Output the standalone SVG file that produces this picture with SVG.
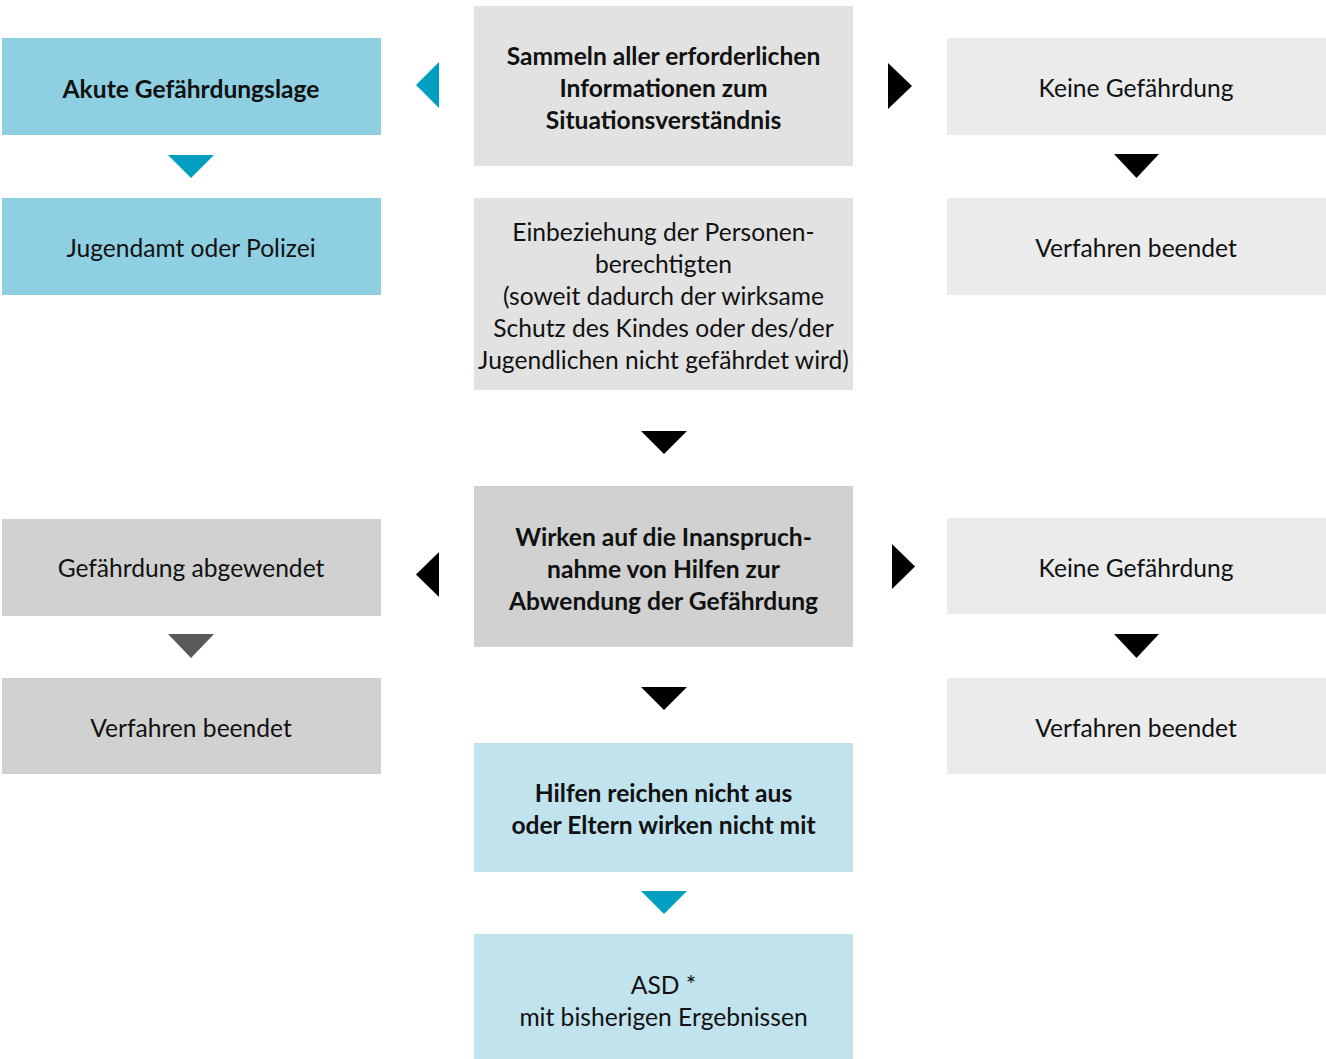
<svg xmlns="http://www.w3.org/2000/svg" width="1326" height="1059" viewBox="0 0 1326 1059">
<style>
text{font-family:Lato,"Open Sans","Liberation Sans",sans-serif;font-size:24.6px;fill:#111;text-anchor:middle}
.b{font-weight:bold}
.teal{fill:#8ECFE1}
.lblue{fill:#C1E3EE}
.g1{fill:#E2E2E2}
.g2{fill:#EBEBEB}
.g3{fill:#D0D1D0}
.at{fill:#009FC2}
.ak{fill:#000}
.ag{fill:#595959}
</style>
<rect width="1326" height="1059" fill="#fff"/>
<g id="akute"><rect class="teal" x="2" y="38" width="379" height="97"/><text class="b" x="191" y="98">Akute Gefährdungslage</text></g>
<g id="jugendamt"><rect class="teal" x="2" y="198" width="379" height="97"/><text x="191" y="257">Jugendamt oder Polizei</text></g>
<g id="sammeln"><rect class="g1" x="474" y="6" width="379" height="160"/><text class="b" x="663.5" y="65">Sammeln aller erforderlichen</text><text class="b" x="663.5" y="97">Informationen zum</text><text class="b" x="663.5" y="129">Situationsverständnis</text></g>
<g id="keine1"><rect class="g2" x="947" y="38" width="379" height="97"/><text x="1136" y="97">Keine Gefährdung</text></g>
<g id="verfahren1"><rect class="g2" x="947" y="198" width="379" height="97"/><text x="1136" y="257">Verfahren beendet</text></g>
<g id="einbeziehung"><rect class="g1" x="474" y="198" width="379" height="192"/><text x="663.5" y="241">Einbeziehung der Personen-</text><text x="663.5" y="273">berechtigten</text><text x="663.5" y="305">(soweit dadurch der wirksame</text><text x="663.5" y="337">Schutz des Kindes oder des/der</text><text x="663.5" y="369">Jugendlichen nicht gefährdet wird)</text></g>
<g id="wirken"><rect class="g3" x="474" y="486" width="379" height="161"/><text class="b" x="663.5" y="546">Wirken auf die Inanspruch-</text><text class="b" x="663.5" y="578">nahme von Hilfen zur</text><text class="b" x="663.5" y="610">Abwendung der Gefährdung</text></g>
<g id="abgewendet"><rect class="g3" x="2" y="519" width="379" height="97"/><text x="191" y="577">Gefährdung abgewendet</text></g>
<g id="verfahren2"><rect class="g3" x="2" y="678" width="379" height="96"/><text x="191" y="737">Verfahren beendet</text></g>
<g id="keine2"><rect class="g2" x="947" y="518" width="379" height="96"/><text x="1136" y="577">Keine Gefährdung</text></g>
<g id="verfahren3"><rect class="g2" x="947" y="678" width="379" height="96"/><text x="1136" y="737">Verfahren beendet</text></g>
<g id="hilfen"><rect class="lblue" x="474" y="743" width="379" height="129"/><text class="b" x="663.5" y="802">Hilfen reichen nicht aus</text><text class="b" x="663.5" y="834">oder Eltern wirken nicht mit</text></g>
<g id="asd"><rect class="lblue" x="474" y="934" width="379" height="125"/><text x="663.5" y="994">ASD *</text><text x="663.5" y="1026">mit bisherigen Ergebnissen</text></g>
<g id="connectors">
<polygon class="at" points="439,62 439,108 416,85"/>
<polygon class="ak" points="888,63 888,109 912,86"/>
<polygon class="at" points="168,155 214,155 191,178"/>
<polygon class="ak" points="1114,154 1159,154 1136.5,178"/>
<polygon class="ak" points="641,431 687,431 664,454"/>
<polygon class="ak" points="439,552 439,597 416,574.5"/>
<polygon class="ak" points="892,544 892,589 915,566.5"/>
<polygon class="ag" points="168,634 214,634 191,658"/>
<polygon class="ak" points="1114,634 1159,634 1136.5,658"/>
<polygon class="ak" points="641,687 687,687 664,710"/>
<polygon class="at" points="641,891 687,891 664,914"/>
</g>
</svg>
